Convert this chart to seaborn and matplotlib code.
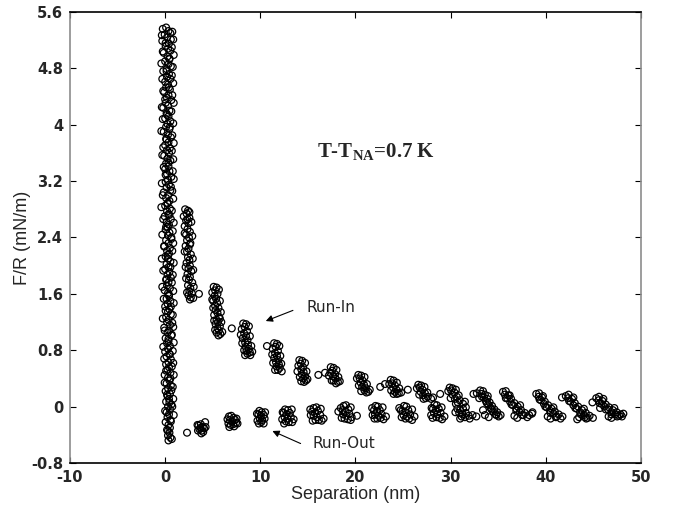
import numpy as np
import pandas as pd
import seaborn as sns
import matplotlib.pyplot as plt

# contact column near zero separation, approach part
contact_x = [0.10, -0.25, 0.35, 0.55, -0.05, 0.20, 0.60, -0.30, 0.40, 0.05,
             0.30, 0.55, -0.15, 0.25, 0.45, 0.00, 0.35, 0.60, 0.15, -0.20,
             0.40, 0.20, 0.55, 0.00, 0.30, 0.10, 0.50, -0.10, 0.35, 0.20,
             0.65, 0.05, 0.30, -0.20, 0.45, 0.15, 0.35, 0.00, 0.55, 0.25,
             0.10, 0.45, -0.15, 0.30, 0.60, 0.15, 0.35, 0.00, 0.50, 0.20,
             0.40, -0.10, 0.25, 0.55, 0.10, 0.35, 0.00, 0.45, 0.20, 0.65,
             0.30, 0.05, 0.40, 0.15, 0.55, -0.15, 0.30, 0.10, 0.45, 0.25,
             0.00, 0.50, 0.20, 0.35, -0.05, 0.60, 0.15, 0.40, 0.25, 0.05,
             0.45, 0.30, 0.65, 0.10, 0.35, -0.10, 0.50, 0.20, 0.40, 0.05,
             0.30, 0.55, 0.15, 0.35, 0.00, 0.45, 0.25, 0.60, 0.10, 0.35,
             0.20, 0.50, -0.05, 0.30, 0.40, 0.15, 0.55, 0.25, 0.00, 0.45,
             0.30, 0.60, 0.10, 0.35, 0.20, 0.50, -0.10, 0.40, 0.25, 0.65,
             0.05, 0.35, 0.20, 0.50, 0.30, 0.00, 0.45, 0.15, 0.60, 0.35,
             0.10, 0.40, 0.25, 0.55, -0.05, 0.30, 0.45, 0.15, 0.60, 0.30,
             0.05, 0.50, 0.25, 0.40, 0.10, 0.65, 0.30, 0.50, 0.15, 0.40,
             0.25, 0.55, 0.05, 0.35, 0.50, 0.20, 0.45, 0.30, 0.55, 0.35]
contact_y = [5.38, 5.36, 5.33, 5.30, 5.28, 5.24, 5.21, 5.19, 5.15, 5.12,
             5.08, 5.05, 5.02, 4.97, 4.94, 4.90, 4.86, 4.83, 4.79, 4.76,
             4.72, 4.68, 4.65, 4.61, 4.57, 4.53, 4.50, 4.46, 4.42, 4.38,
             4.35, 4.31, 4.27, 4.24, 4.20, 4.16, 4.12, 4.09, 4.05, 4.01,
             3.97, 3.94, 3.90, 3.86, 3.82, 3.79, 3.75, 3.71, 3.67, 3.64,
             3.60, 3.56, 3.52, 3.49, 3.45, 3.41, 3.37, 3.34, 3.30, 3.26,
             3.22, 3.19, 3.15, 3.11, 3.07, 3.04, 3.00, 2.96, 2.92, 2.88,
             2.85, 2.81, 2.77, 2.73, 2.70, 2.66, 2.62, 2.58, 2.55, 2.51,
             2.47, 2.43, 2.40, 2.36, 2.32, 2.28, 2.25, 2.21, 2.17, 2.13,
             2.10, 2.06, 2.02, 1.98, 1.95, 1.91, 1.87, 1.83, 1.80, 1.76,
             1.72, 1.68, 1.65, 1.61, 1.57, 1.53, 1.50, 1.46, 1.42, 1.38,
             1.35, 1.31, 1.27, 1.23, 1.20, 1.16, 1.12, 1.08, 1.05, 1.01,
             0.97, 0.93, 0.90, 0.86, 0.82, 0.78, 0.75, 0.71, 0.67, 0.63,
             0.60, 0.56, 0.52, 0.48, 0.45, 0.41, 0.37, 0.33, 0.30, 0.26,
             0.22, 0.18, 0.15, 0.11, 0.07, 0.03, 0.00, -0.04, -0.08, -0.11,
             -0.15, -0.19, -0.22, -0.26, -0.30, -0.33, -0.37, -0.41, -0.44, -0.48]

# contact column, retraction part
contact_out_x = [0.75, -0.35, 0.85, 0.05, 0.70, -0.25, 0.90, 0.45, -0.40, 0.80,
                 0.15, 0.70, -0.30, 0.85, 0.40, -0.20, 0.75, 0.00, 0.90, -0.35,
                 0.65, 0.20, -0.25, 0.85, 0.50, -0.40, 0.75, 0.10, 0.90, -0.20,
                 0.70, -0.30, 0.85, 0.35, -0.15, 0.80, 0.05, 0.90, -0.35, 0.60,
                 0.75, -0.25, 0.85, 0.25, -0.40, 0.70, 0.45, -0.20, 0.90, 0.10,
                 0.80, -0.30, 0.65, 0.85, -0.10, 0.75, 0.30, -0.35, 0.90, 0.55,
                 -0.20, 0.80, 0.15, 0.70, -0.30, 0.85, 0.40, -0.15, 0.90, 0.60,
                 0.05, 0.80, -0.25, 0.75, 0.85, -0.05, 0.70, 0.35, 0.90, -0.20,
                 0.80, 0.50, -0.10, 0.85, 0.70, 0.10, 0.90, 0.55, -0.05, 0.80,
                 0.65, 0.20, 0.85, 0.45, 0.75, 0.00, 0.90, 0.60, 0.30, 0.70]
contact_out_y = [5.32, 5.27, 5.21, 5.16, 5.10, 5.04, 4.99, 4.93, 4.87, 4.82,
                 4.76, 4.70, 4.65, 4.59, 4.53, 4.48, 4.42, 4.36, 4.31, 4.25,
                 4.19, 4.14, 4.08, 4.02, 3.97, 3.91, 3.85, 3.80, 3.74, 3.68,
                 3.63, 3.57, 3.51, 3.46, 3.40, 3.34, 3.29, 3.23, 3.17, 3.12,
                 3.06, 3.00, 2.95, 2.89, 2.83, 2.78, 2.72, 2.66, 2.61, 2.55,
                 2.49, 2.44, 2.38, 2.32, 2.27, 2.21, 2.15, 2.10, 2.04, 1.98,
                 1.93, 1.87, 1.81, 1.76, 1.70, 1.64, 1.59, 1.53, 1.47, 1.42,
                 1.36, 1.30, 1.25, 1.19, 1.13, 1.08, 1.02, 0.96, 0.91, 0.85,
                 0.79, 0.74, 0.68, 0.62, 0.57, 0.51, 0.45, 0.40, 0.34, 0.28,
                 0.23, 0.17, 0.11, 0.06, 0.00, -0.06, -0.12, -0.21, -0.34, -0.46]

# run-in: jumps outward, clusters of decreasing force
run_in_x = [2.10, 2.40, 2.25, 1.95, 2.55, 2.20, 2.45, 2.05, 2.35, 2.60,
            2.20, 2.50, 2.30, 2.65, 2.15, 2.45, 2.30, 2.70, 2.40, 2.55,
            2.25, 2.60, 2.45, 2.75, 2.35, 2.60, 2.50, 2.85, 2.40, 2.65,
            2.55, 2.80, 2.45, 2.70, 2.60, 3.55,
            2.55, 2.75, 2.05, 2.85, 2.60, 2.05, 2.90, 2.15, 2.95, 2.20,
            3.00, 2.30, 2.95, 2.35,
            5.10, 5.40, 5.25, 4.95, 5.50, 5.20, 5.35, 5.05, 5.45, 5.25,
            5.60, 5.30, 5.50, 5.15, 5.65, 5.40, 5.55, 5.30, 5.75, 5.50,
            5.65, 5.40, 5.80, 5.60, 7.00,
            5.65, 4.95, 5.75, 5.05, 5.85, 5.15, 5.90, 5.25, 6.00, 5.75,
            8.20, 8.50, 8.35, 8.05, 8.60, 8.30, 8.50, 8.15, 8.65, 8.40,
            8.70, 8.45, 8.80, 8.55, 8.90, 8.65, 8.95, 10.70,
            8.80, 7.95, 8.90, 8.10, 9.05, 8.30, 9.15, 8.40,
            11.45, 11.75, 11.60, 11.30, 11.85, 11.55, 11.75, 11.45, 11.90, 11.65,
            11.95, 11.70, 12.05, 11.85,
            12.00, 11.25, 12.10, 11.35, 12.20, 11.55, 12.25,
            14.10, 14.40, 14.25, 14.00, 14.50, 14.30, 14.55, 14.35, 14.70, 14.50,
            14.80, 14.60, 16.10, 16.80,
            14.70, 13.90, 14.85, 14.15, 14.95, 14.30,
            17.40, 17.70, 17.55, 17.35, 17.85, 17.65, 17.90, 17.70, 18.15, 17.95,
            18.00, 17.20, 18.20, 17.50, 18.35,
            20.30, 20.60, 20.45, 20.75, 20.55, 20.90, 20.70, 21.10, 20.95, 21.35,
            21.15, 22.60, 23.10,
            20.15, 20.95, 20.35, 21.20, 20.60, 21.50,
            23.70, 24.00, 23.85, 24.15, 23.95, 24.30, 24.15, 24.55, 24.35, 25.50,
            23.55, 24.35, 23.75, 24.60, 24.00, 24.80,
            26.60, 26.90, 26.75, 27.05, 26.85, 27.30, 27.10, 27.60, 27.40, 27.95,
            28.90,
            26.45, 27.25, 26.70, 27.55, 27.15, 28.15,
            29.90, 30.20, 30.05, 30.40, 30.20, 30.65, 30.45, 30.95, 30.75, 31.30,
            32.40,
            29.75, 30.55, 30.00, 30.85, 30.55, 31.50,
            33.10, 33.40, 33.25, 33.60, 33.50, 33.85, 33.70, 34.10, 33.95, 34.35,
            34.20, 34.60, 34.45, 34.90, 34.75, 35.25, 35.05, 32.75, 33.40,
            33.30, 33.80, 34.30, 34.80, 33.00, 33.90,
            35.50, 35.80, 35.70, 36.05, 35.95, 36.35, 36.25, 36.70, 36.55, 37.05,
            36.90, 37.40, 37.25, 37.80, 37.65, 38.25, 38.05, 38.55,
            35.80, 36.40, 36.90, 37.50, 36.20, 37.30,
            39.00, 39.30, 39.25, 39.60, 39.50, 39.90, 39.80, 40.25, 40.10, 40.60,
            40.45, 40.95, 40.80, 41.35, 41.15, 41.75, 41.55, 38.60,
            39.35, 39.95, 40.50, 41.05, 39.70, 40.80,
            42.10, 42.40, 42.35, 42.75, 42.60, 43.05, 42.90, 43.40, 43.25, 43.80,
            43.60, 44.20, 44.00, 44.60, 44.40, 44.95, 41.70, 44.10,
            42.45, 43.10, 43.70, 44.25, 42.90, 44.00,
            45.30, 45.60, 45.55, 45.95, 45.85, 46.30, 46.15, 46.65, 46.55, 47.05,
            46.90, 47.45, 47.30, 47.85, 47.70, 48.15, 44.90, 45.70,
            45.65, 46.30, 46.90, 47.50, 46.05, 47.20, 48.00]
run_in_y = [2.80, 2.78, 2.74, 2.70, 2.68, 2.64, 2.60, 2.56, 2.52, 2.48,
            2.44, 2.40, 2.36, 2.32, 2.28, 2.24, 2.20, 2.16, 2.12, 2.08,
            2.04, 2.00, 1.96, 1.92, 1.88, 1.84, 1.80, 1.76, 1.72, 1.68,
            1.64, 1.61, 1.58, 1.55, 1.52, 1.60,
            2.76, 2.62, 2.46, 2.42, 2.30, 2.20, 2.10, 1.98, 1.94, 1.82,
            1.70, 1.62, 1.54, 2.66,
            1.70, 1.69, 1.65, 1.62, 1.60, 1.57, 1.53, 1.50, 1.47, 1.43,
            1.40, 1.37, 1.33, 1.30, 1.27, 1.23, 1.20, 1.17, 1.14, 1.11,
            1.08, 1.05, 1.03, 1.01, 1.11,
            1.66, 1.52, 1.50, 1.40, 1.34, 1.22, 1.20, 1.09, 1.06, 1.25,
            1.18, 1.17, 1.13, 1.10, 1.07, 1.04, 1.00, 0.97, 0.94, 0.91,
            0.88, 0.85, 0.82, 0.79, 0.77, 0.75, 0.73, 0.86,
            1.14, 1.02, 1.00, 0.90, 0.86, 0.80, 0.78, 0.73,
            0.90, 0.89, 0.85, 0.82, 0.79, 0.76, 0.72, 0.69, 0.66, 0.63,
            0.60, 0.57, 0.55, 0.52,
            0.86, 0.74, 0.72, 0.62, 0.61, 0.52, 0.50,
            0.66, 0.65, 0.61, 0.58, 0.56, 0.53, 0.49, 0.46, 0.43, 0.40,
            0.37, 0.35, 0.45, 0.48,
            0.62, 0.50, 0.50, 0.42, 0.39, 0.36,
            0.56, 0.55, 0.51, 0.48, 0.46, 0.43, 0.40, 0.37, 0.35, 0.33,
            0.52, 0.44, 0.42, 0.37, 0.36,
            0.45, 0.44, 0.40, 0.37, 0.34, 0.31, 0.28, 0.26, 0.23, 0.21,
            0.20, 0.28, 0.32,
            0.40, 0.42, 0.30, 0.32, 0.22, 0.24,
            0.38, 0.37, 0.33, 0.30, 0.27, 0.24, 0.21, 0.19, 0.18, 0.24,
            0.32, 0.34, 0.23, 0.26, 0.18, 0.20,
            0.31, 0.30, 0.27, 0.24, 0.21, 0.19, 0.16, 0.14, 0.12, 0.11,
            0.18,
            0.26, 0.28, 0.17, 0.20, 0.11, 0.13,
            0.27, 0.26, 0.23, 0.20, 0.17, 0.14, 0.11, 0.09, 0.06, 0.04,
            0.18,
            0.22, 0.24, 0.12, 0.16, 0.04, 0.07,
            0.23, 0.22, 0.18, 0.17, 0.13, 0.11, 0.08, 0.06, 0.03, 0.01,
            -0.02, -0.04, -0.07, -0.08, -0.11, -0.12, -0.14, 0.19, -0.05,
            0.14, 0.05, -0.04, -0.12, 0.12, 0.15,
            0.21, 0.22, 0.17, 0.16, 0.12, 0.11, 0.07, 0.05, 0.02, 0.00,
            -0.03, -0.05, -0.08, -0.09, -0.12, -0.12, -0.15, -0.10,
            0.12, 0.03, -0.06, -0.12, 0.16, 0.02,
            0.18, 0.19, 0.14, 0.13, 0.09, 0.07, 0.04, 0.02, -0.01, -0.03,
            -0.06, -0.07, -0.10, -0.11, -0.14, -0.14, -0.17, -0.08,
            0.10, 0.00, -0.09, -0.15, 0.15, -0.01,
            0.15, 0.17, 0.12, 0.11, 0.07, 0.05, 0.02, 0.00, -0.03, -0.05,
            -0.08, -0.09, -0.12, -0.13, -0.16, -0.16, 0.13, -0.15,
            0.08, -0.02, -0.11, -0.17, 0.13, -0.03,
            0.12, 0.14, 0.09, 0.08, 0.04, 0.03, 0.00, -0.01, -0.04, -0.05,
            -0.08, -0.08, -0.11, -0.11, -0.13, -0.10, 0.06, -0.02,
            0.05, -0.04, -0.11, -0.14, 0.11, -0.02, -0.14]

# run-out: pull-off branch below zero
run_out_x = [2.30,
             3.50, 3.75, 3.95, 3.60, 3.85, 4.10, 4.20, 3.70, 4.00, 3.45, 3.40, 4.25, 3.80,
             6.70, 6.95, 7.20, 6.80, 7.05, 7.35, 6.65, 6.90, 7.15, 7.45, 7.60, 6.55, 7.50, 7.25, 6.75,
             9.90, 10.15, 9.80, 10.05, 10.35, 9.95, 10.20, 10.45, 10.10, 9.70, 9.65, 10.50, 10.35, 9.85,
             12.60, 12.90, 12.45, 12.75, 13.10, 12.55, 12.85, 13.20, 12.70, 13.00, 13.50, 12.30,
             12.35, 13.30, 13.35, 12.50,
             15.60, 15.90, 15.45, 15.75, 16.05, 15.60, 15.95, 16.30, 15.80, 16.15, 16.65, 15.30,
             15.25, 16.35, 16.45, 15.50,
             18.20, 18.75, 19.00, 18.65, 18.95, 19.25, 18.70, 19.05, 19.35, 18.85, 19.20, 19.60, 20.15,
             18.45, 19.50, 19.50, 18.55,
             22.10, 22.35, 21.95, 22.25, 22.55, 22.05, 22.40, 22.75, 22.30, 22.65, 23.20, 21.80,
             21.75, 22.85, 22.95, 22.00,
             24.60, 25.10, 25.35, 24.95, 25.25, 25.55, 25.05, 25.40, 25.75, 25.25, 25.65, 26.20,
             24.75, 25.95, 25.95, 24.85,
             28.30, 28.55, 28.15, 28.45, 28.75, 28.25, 28.60, 28.95, 28.50, 28.85, 29.35, 27.95,
             28.00, 29.05, 29.10, 28.10,
             30.70, 31.00, 31.30, 30.90, 31.25, 31.60, 31.15, 31.50, 31.90, 32.30, 32.70,
             30.50, 31.60, 32.00, 31.00,
             33.60, 34.00, 36.70, 37.00, 40.20, 40.50, 43.50, 43.30, 46.60, 46.90]
run_out_y = [-0.37,
             -0.27, -0.25, -0.29, -0.32, -0.34, -0.31, -0.22, -0.30, -0.36, -0.34, -0.26, -0.29, -0.38,
             -0.14, -0.13, -0.16, -0.19, -0.21, -0.19, -0.24, -0.26, -0.25, -0.23, -0.24, -0.18, -0.17, -0.28, -0.29,
             -0.06, -0.08, -0.11, -0.13, -0.12, -0.17, -0.19, -0.17, -0.22, -0.20, -0.10, -0.08, -0.24, -0.24,
             -0.04, -0.05, -0.09, -0.11, -0.09, -0.15, -0.17, -0.15, -0.21, -0.22, -0.18, -0.18,
             -0.08, -0.04, -0.22, -0.24,
             -0.02, -0.01, -0.07, -0.09, -0.06, -0.13, -0.15, -0.12, -0.19, -0.19, -0.17, -0.12,
             -0.04, -0.03, -0.20, -0.20,
             -0.07, 0.01, 0.02, -0.05, -0.07, -0.04, -0.11, -0.13, -0.10, -0.17, -0.18, -0.15, -0.13,
             -0.02, -0.01, -0.19, -0.16,
             0.01, 0.00, -0.05, -0.07, -0.05, -0.11, -0.13, -0.11, -0.17, -0.16, -0.14, -0.12,
             -0.02, -0.01, -0.18, -0.17,
             -0.02, 0.01, 0.00, -0.06, -0.08, -0.05, -0.12, -0.14, -0.11, -0.17, -0.17, -0.14,
             -0.05, -0.04, -0.19, -0.15,
             0.03, 0.02, -0.03, -0.05, -0.03, -0.09, -0.11, -0.09, -0.15, -0.16, -0.14, -0.12,
             -0.02, -0.01, -0.18, -0.16,
             -0.03, -0.05, -0.03, -0.09, -0.11, -0.09, -0.14, -0.15, -0.13, -0.12, -0.14,
             -0.08, -0.01, -0.17, -0.17,
             -0.12, -0.15, -0.13, -0.16, -0.14, -0.17, -0.15, -0.18, -0.14, -0.16]

x_ticks = [-10, 0, 10, 20, 30, 40, 50]
y_ticks = [-0.8, 0, 0.8, 1.6, 2.4, 3.2, 4, 4.8, 5.6]
y_tick_labels = ["-0.8", "0", "0.8", "1.6", "2.4", "3.2", "4", "4.8", "5.6"]

sns.set_theme(style="ticks", rc={"xtick.direction": "in", "ytick.direction": "in",
                                 "xtick.top": True, "ytick.right": True})
plt.rcParams['font.family'] = ['Liberation Sans', 'DejaVu Sans']

fig = plt.figure(figsize=(6.73, 5.08), dpi=100)
ax = fig.add_axes([0.104, 0.0886, 0.8484, 0.8878])

pts = dict(marker="o", s=24, facecolor="none", edgecolor="black", linewidth=0.9, ax=ax)
sns.scatterplot(x=contact_x, y=contact_y, **pts)
sns.scatterplot(x=contact_out_x, y=contact_out_y, **pts)
sns.scatterplot(x=run_in_x, y=run_in_y, **pts)
sns.scatterplot(x=run_out_x, y=run_out_y, **pts)

ax.set_xlim(-10, 50)
ax.set_ylim(-0.8, 5.6)
ax.set_xticks(x_ticks)
ax.set_xticklabels([str(t) for t in x_ticks], family="DejaVu Sans", fontweight="bold", fontsize=10.5)
ax.set_yticks(y_ticks)
ax.set_yticklabels(y_tick_labels, family="DejaVu Sans", fontweight="bold", fontsize=10.5)
ax.tick_params(length=4, width=0.8, color="black", pad=5)

for side in ["top", "bottom"]:
    ax.spines[side].set_color("black")
    ax.spines[side].set_linewidth(1.2)
for side in ["left", "right"]:
    ax.spines[side].set_color("0.55")
    ax.spines[side].set_linewidth(1.2)

ax.set_xlabel("Separation (nm)", fontsize=13, labelpad=1)
ax.set_ylabel("F/R (mN/m)", fontsize=13, labelpad=0)

ax.text(22.2, 3.61, r"T-T$_{\mathregular{NA}}$=0.7 K", family="Liberation Serif",
        fontweight="bold", fontsize=15, ha="center", va="center")

ax.annotate("", xy=(10.3, 1.20), xytext=(13.7, 1.38),
            arrowprops=dict(arrowstyle="-|>", color="black", lw=0.8, mutation_scale=10))
ax.text(14.9, 1.40, "Run-In", family="DejaVu Sans", fontsize=11, ha="left", va="center")
ax.annotate("", xy=(11.0, -0.33), xytext=(14.5, -0.54),
            arrowprops=dict(arrowstyle="-|>", color="black", lw=0.8, mutation_scale=10))
ax.text(15.5, -0.52, "Run-Out", family="DejaVu Sans", fontsize=11, ha="left", va="center")

fig.savefig("out.png", dpi=100)
